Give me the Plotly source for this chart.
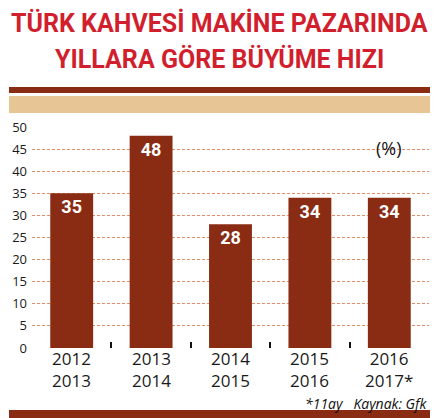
import plotly.graph_objects as go

# data
periods = ["2012-2013", "2013-2014", "2014-2015", "2015-2016", "2016-2017*"]
label_top = ["2012", "2013", "2014", "2015", "2016"]
label_bottom = ["2013", "2014", "2015", "2016", "2017*"]
growth = [35, 48, 28, 34, 34]
y_ticks = [0, 5, 10, 15, 20, 25, 30, 35, 40, 45, 50]

# the page body has an 8px margin, so work in screen pixels and shift
OFF = 8
W, H = 438, 418
L, T = 32 - OFF, 127 - OFF
R, B = W - (429 - OFF), H - (348 - OFF)
pw, ph = W - L - R, H - T - B


def px(x):
    return (x - OFF - L) / pw


def py(y):
    return (H - B - (y - OFF)) / ph


BROWN = "#8a2b13"
TAN = "#e8c594"
RED = "#d11f2e"
TITLE_FONT = dict(family="Roboto", size=25, color=RED, weight="bold")
TICK_FONT = dict(family="Open Sans", size=17, color="#1a1a1a")

fig = go.Figure()
fig.add_trace(go.Bar(
    x=periods, y=growth, width=0.54,
    marker=dict(color=BROWN, line=dict(width=0)),
    text=[str(v) for v in growth],
    textposition="inside", insidetextanchor="end",
    textfont=dict(family="Roboto", size=18, color="white", weight="bold"),
    cliponaxis=False,
))

shapes = [
    dict(type="rect", xref="paper", yref="paper", x0=px(9), x1=px(433), y0=py(93), y1=py(87),
         fillcolor=BROWN, line=dict(width=0), layer="below"),
    dict(type="rect", xref="paper", yref="paper", x0=px(9), x1=px(433), y0=py(113), y1=py(96),
         fillcolor=TAN, line=dict(width=0), layer="below"),
    dict(type="rect", xref="paper", yref="paper", x0=px(9), x1=px(433), y0=py(418), y1=py(410),
         fillcolor=BROWN, line=dict(width=0), layer="below"),
]

annotations = [
    dict(text="TÜRK KAHVESİ MAKİNE PAZARINDA", xref="paper", yref="paper", x=px(219), y=py(23),
         showarrow=False, xanchor="center", yanchor="middle", font=TITLE_FONT),
    dict(text="YILLARA GÖRE BÜYÜME HIZI", xref="paper", yref="paper", x=px(219), y=py(59),
         showarrow=False, xanchor="center", yanchor="middle", font=TITLE_FONT),
    dict(text="(%)", xref="paper", yref="paper", x=px(389), y=py(148), showarrow=False,
         xanchor="center", yanchor="middle",
         font=dict(family="Open Sans", size=18, color="#111")),
    dict(text="<i>*11ay   Kaynak: Gfk</i>", xref="paper", yref="paper", x=px(428), y=py(403),
         showarrow=False, xanchor="right", yanchor="middle", borderpad=0,
         font=dict(family="Open Sans", size=14, color="#111")),
]

# two-line category labels under each bar
for cat, top, bottom in zip(periods, label_top, label_bottom):
    annotations.append(dict(text=top + "<br>" + bottom, xref="x", yref="paper", x=cat, y=py(369),
                            showarrow=False, xanchor="center", yanchor="middle",
                            borderpad=0, font=TICK_FONT))

fig.update_layout(
    width=W, height=H,
    margin=dict(l=L, r=R, t=T, b=B),
    paper_bgcolor="white", plot_bgcolor="white",
    showlegend=False,
    shapes=shapes, annotations=annotations,
    xaxis=dict(
        type="category", tickson="boundaries", ticks="inside", ticklen=6, tickwidth=2,
        tickcolor="#111", showgrid=False, showline=False, zeroline=False,
        showticklabels=False, automargin=False,
    ),
    yaxis=dict(
        range=[0, 50], tickvals=y_ticks, ticks="", showline=False, zeroline=False,
        showgrid=True, gridcolor="#e38e6a", griddash="3px,2px", gridwidth=1,
        tickfont=dict(family="Open Sans", size=13, color="#1a1a1a"),
        ticklabelstandoff=4, automargin=False,
    ),
)

fig.write_html("out.html")
